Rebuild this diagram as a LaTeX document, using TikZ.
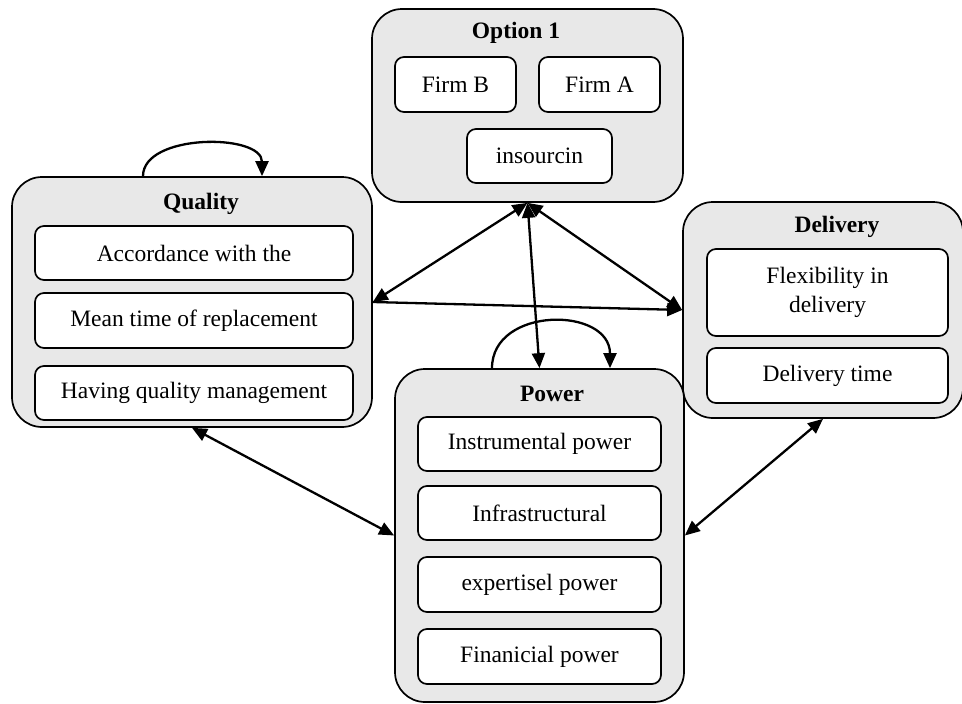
\documentclass[tikz,border=0pt]{standalone}
\usepackage{fontspec}
\setmainfont{Liberation Serif}
\usetikzlibrary{arrows.meta}
\definecolor{boxgray}{RGB}{232,232,232}
\newcommand\diagfont{\fontsize{23.5}{28.5}\selectfont}
\begin{document}
\begin{tikzpicture}[x=1pt,y=-1pt,
  outerbox/.style={draw=black, line width=1.7pt, fill=boxgray, rounded corners=30pt, inner sep=0pt},
  innerbox/.style={draw=black, line width=1.7pt, fill=white, rounded corners=9pt, inner sep=0pt, align=center, font=\diagfont},
  ttl/.style={font=\diagfont\bfseries, inner sep=0pt},
  arr/.style={line width=2.3pt, -{Triangle[length=15pt,width=13pt]}},
  darr/.style={line width=2.3pt, {Triangle[length=15pt,width=13pt]}-{Triangle[length=15pt,width=13pt]}}]
\useasboundingbox (0,0) rectangle (962,704);

% Option 1
\node[outerbox, minimum width=311pt, minimum height=193pt] (opt) at (527.5,105.5) {};
\node[ttl] (optt) at (516,33) {Option 1};
\node[innerbox, minimum width=121pt, minimum height=55pt] (firmb) at (455.5,84.5) {Firm B};
\node[innerbox, minimum width=121pt, minimum height=55pt] (firma) at (599.5,84.5) {Firm A};
\node[innerbox, minimum width=145pt, minimum height=54pt] (ins) at (539.5,156) {insourcin};

% Quality
\node[outerbox, minimum width=360pt, minimum height=250pt] (qual) at (192,302) {};
\node[ttl] (qualt) at (201,204) {Quality};
\node[innerbox, minimum width=318pt, minimum height=54pt] (q1) at (194,253) {Accordance with the};
\node[innerbox, minimum width=318pt, minimum height=55pt] (q2) at (194,320.5) {Mean time of replacement};
\node[innerbox, minimum width=318pt, minimum height=54pt] (q3) at (194,393) {Having quality management};

% Delivery
\node[outerbox, minimum width=280pt, minimum height=216pt] (del) at (823,310) {};
\node[ttl] (delt) at (837,227) {Delivery};
\node[innerbox, minimum width=241pt, minimum height=87pt] (d1) at (827.5,292.5) {Flexibility in\\delivery};
\node[innerbox, minimum width=241pt, minimum height=55pt] (d2) at (827.5,375.5) {Delivery time};

% Power
\node[outerbox, minimum width=289pt, minimum height=333pt] (pow) at (539.5,535.5) {};
\node[ttl] (powt) at (552,394) {Power};
\node[innerbox, minimum width=243pt, minimum height=54pt] (p1) at (539.5,444) {Instrumental power};
\node[innerbox, minimum width=243pt, minimum height=54pt] (p2) at (539.5,513) {Infrastructural};
\node[innerbox, minimum width=243pt, minimum height=55pt] (p3) at (539.5,584.5) {expertisel power};
\node[innerbox, minimum width=243pt, minimum height=55pt] (p4) at (539.5,656.5) {Finanicial power};

% connectors
\draw[darr] (opt.south) -- (qual.east);
\draw[darr] (opt.south) -- (del.west);
\draw[darr] (opt.south) -- (pow.north);
\draw[arr] (qual.east) -- (del.west);
\draw[darr] (qual.south) -- (pow.west);
\draw[darr] (del.south) -- (pow.east);

% self loops
\coordinate (ql1) at ([xshift=-49pt]qual.north);
\coordinate (ql2) at ([xshift=70pt]qual.north);
\draw[arr] (ql1) .. controls +(0,-43) and +(0,-43) .. (ql2);
\coordinate (pl1) at ([xshift=-47.5pt]pow.north);
\coordinate (pl2) at ([xshift=70.5pt]pow.north);
\draw[arr] (pl1) .. controls +(0,-62) and +(0,-62) .. (pl2);
\end{tikzpicture}
\end{document}
